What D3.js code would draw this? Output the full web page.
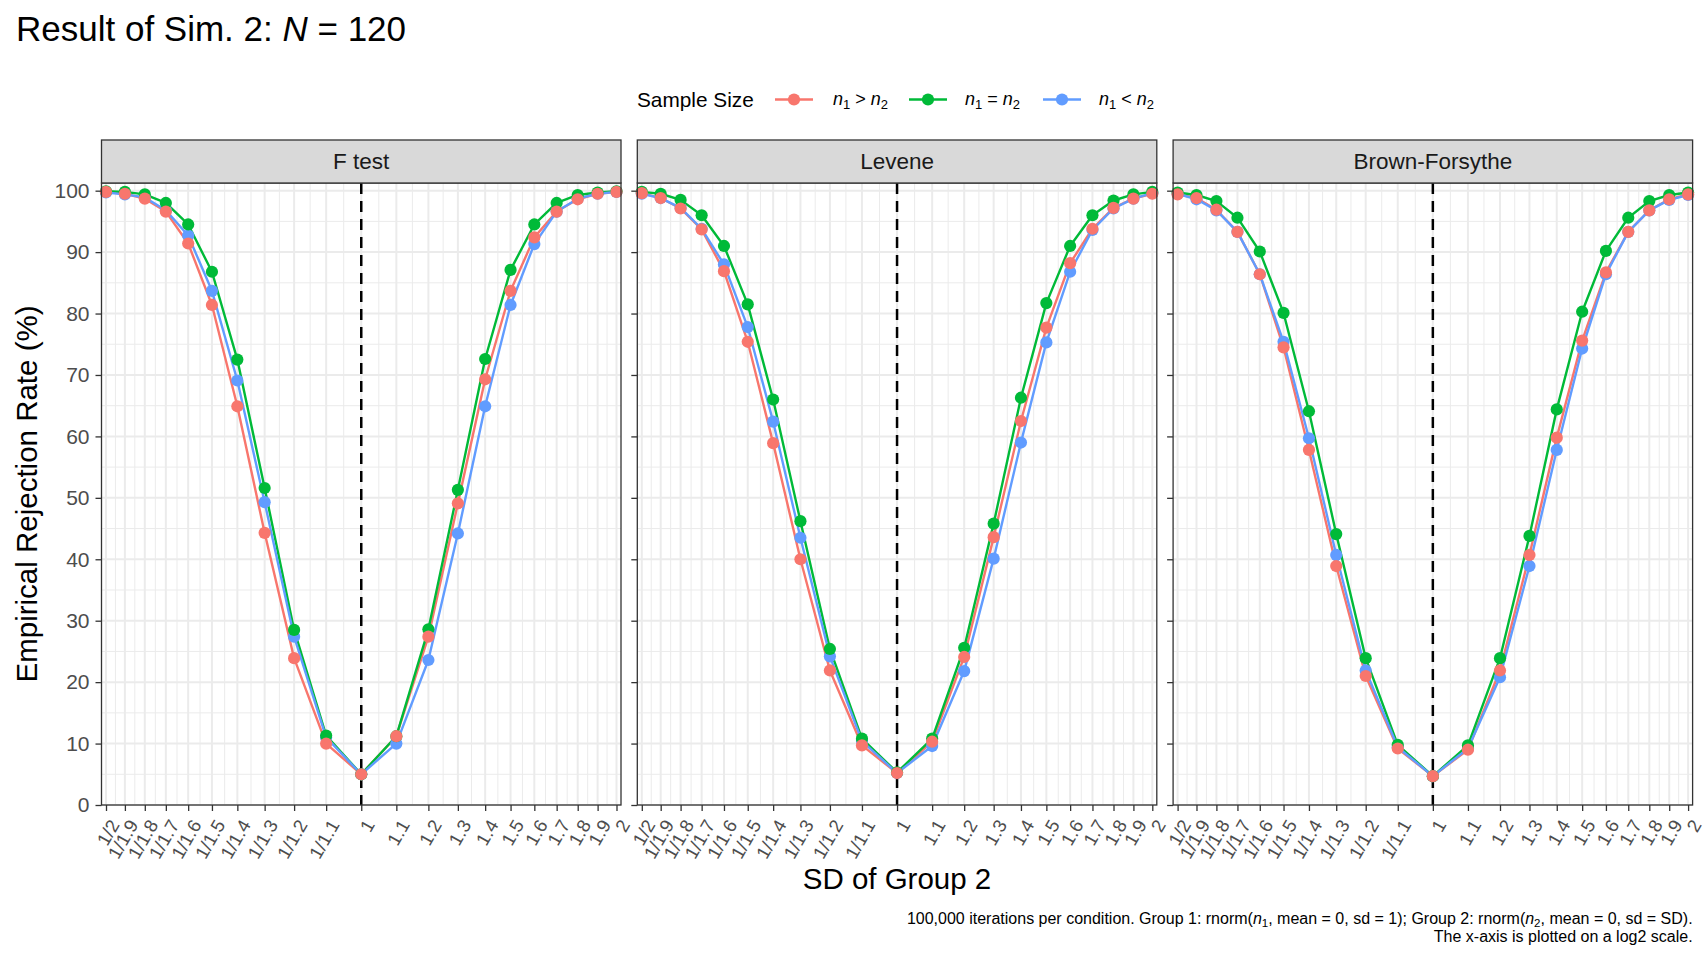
<!DOCTYPE html>
<html>
<head>
<meta charset="utf-8">
<script src="https://cdn.jsdelivr.net/npm/d3@7"></script>
<style>
  html, body { margin: 0; padding: 0; background: #fff; }
  svg { display: block; font-family: "Liberation Sans", Arial, sans-serif; }
</style>
</head>
<body>
<svg id="chart" width="1708" height="960"></svg>
<script>
// ---------- data ----------
const sdLabels = ["1/2","1/1.9","1/1.8","1/1.7","1/1.6","1/1.5","1/1.4","1/1.3","1/1.2","1/1.1","1",
                  "1.1","1.2","1.3","1.4","1.5","1.6","1.7","1.8","1.9","2"];
const sdValues = [1/2, 1/1.9, 1/1.8, 1/1.7, 1/1.6, 1/1.5, 1/1.4, 1/1.3, 1/1.2, 1/1.1, 1,
                  1.1, 1.2, 1.3, 1.4, 1.5, 1.6, 1.7, 1.8, 1.9, 2];
const tests = ["F test", "Levene", "Brown-Forsythe"];
const groups = ["gt", "eq", "lt"];
const groupColors = ["#F8766D", "#00BA38", "#619CFF"];
const yTicks = [0, 10, 20, 30, 40, 50, 60, 70, 80, 90, 100];

// F test
const fGt = [99.8, 99.5, 98.7, 96.6, 91.4, 81.4, 64.9, 44.3, 23.9, 10.0, 5.0, 11.2, 27.4, 49.1, 69.3, 83.7, 92.4, 96.6, 98.6, 99.5, 99.8];
const fEq = [99.9, 99.8, 99.4, 98.0, 94.5, 86.8, 72.5, 51.6, 28.5, 11.3, 5.0, 11.2, 28.6, 51.3, 72.6, 87.1, 94.5, 98.0, 99.3, 99.7, 99.9];
const fLt = [99.7, 99.4, 98.9, 96.8, 92.7, 83.7, 69.1, 49.3, 27.4, 11.0, 5.0, 10.0, 23.6, 44.2, 64.9, 81.4, 91.3, 96.6, 98.7, 99.5, 99.8];
// Levene
const lGt = [99.6, 98.8, 97.1, 93.7, 86.9, 75.4, 58.9, 40.0, 21.9, 9.7, 5.2, 10.3, 24.1, 43.6, 62.5, 77.7, 88.2, 93.8, 97.2, 98.7, 99.5];
const lEq = [99.8, 99.5, 98.5, 96.0, 91.0, 81.5, 66.0, 46.2, 25.4, 10.8, 5.3, 10.8, 25.6, 45.8, 66.3, 81.7, 91.0, 96.0, 98.4, 99.4, 99.8];
const lLt = [99.5, 98.8, 97.2, 93.8, 88.0, 77.8, 62.4, 43.5, 24.2, 10.4, 5.2, 9.6, 21.8, 40.1, 59.0, 75.3, 86.8, 93.6, 97.1, 98.7, 99.6];
// Brown-Forsythe
const bGt = [99.4, 98.8, 96.9, 93.3, 86.4, 74.5, 57.8, 38.9, 21.0, 9.2, 4.7, 9.0, 21.9, 40.7, 59.8, 75.6, 86.7, 93.3, 96.8, 98.6, 99.4];
const bEq = [99.7, 99.3, 98.3, 95.6, 90.1, 80.1, 64.1, 44.1, 23.9, 9.8, 4.7, 9.7, 23.9, 43.8, 64.4, 80.3, 90.2, 95.6, 98.3, 99.3, 99.7];
const bLt = [99.5, 98.6, 96.8, 93.3, 86.4, 75.4, 59.7, 40.7, 21.9, 9.4, 4.7, 9.2, 20.8, 38.9, 57.8, 74.3, 86.4, 93.3, 96.8, 98.5, 99.3];

const seriesByTest = [[fGt, fEq, fLt], [lGt, lEq, lLt], [bGt, bEq, bLt]];

// ---------- layout ----------
const svg = d3.select("#chart");
const panelLeft0 = 101.5, panelW = 519.5, panelGap = 16.3;
const stripTop = 140, panelTop = 183, panelBottom = 805;
const xPad = 4.5;
const ptR = 6.1, lineW = 2.4;

const y = d3.scaleLinear().domain([0, 101.25]).range([panelBottom, panelTop]);

// title
const title = svg.append("text").attr("x", 16).attr("y", 40.5)
  .attr("font-size", 35).attr("fill", "#000");
title.append("tspan").text("Result of Sim. 2: ");
title.append("tspan").attr("font-style", "italic").text("N");
title.append("tspan").text(" = 120");

// legend
const legY = 99.5;
svg.append("text").attr("x", 637).attr("y", legY).attr("dy", "0.35em")
  .attr("font-size", 20.8).attr("fill", "#000").text("Sample Size");
const legItems = [
  {key: 775, label: 833, op: ">"},
  {key: 909, label: 965, op: "="},
  {key: 1043, label: 1099, op: "<"}
];
legItems.forEach((it, i) => {
  svg.append("line").attr("x1", it.key).attr("x2", it.key + 38)
    .attr("y1", legY).attr("y2", legY)
    .attr("stroke", groupColors[i]).attr("stroke-width", lineW);
  svg.append("circle").attr("cx", it.key + 19).attr("cy", legY).attr("r", ptR)
    .attr("fill", groupColors[i]);
  const t = svg.append("text").attr("x", it.label).attr("y", legY + 5)
    .attr("font-size", 18).attr("fill", "#000");
  t.append("tspan").attr("font-style", "italic").text("n");
  t.append("tspan").attr("font-size", 13).attr("dy", 4).text("1");
  t.append("tspan").attr("dy", -4).text(" " + it.op + " ");
  t.append("tspan").attr("font-style", "italic").text("n");
  t.append("tspan").attr("font-size", 13).attr("dy", 4).text("2");
});

// panels
tests.forEach((testName, p) => {
  const left = panelLeft0 + p * (panelW + panelGap);
  const right = left + panelW;
  const x = d3.scaleLog().base(2).domain([0.5, 2]).range([left + xPad, right - xPad]);
  const g = svg.append("g");

  g.append("rect").attr("x", left).attr("y", panelTop).attr("width", panelW)
    .attr("height", panelBottom - panelTop).attr("fill", "#fff");

  // minor grid
  const minorX = d3.pairs(sdValues).map(([a, b]) => Math.sqrt(a * b));
  g.selectAll(".mgx").data(minorX).enter().append("line")
    .attr("x1", d => x(d)).attr("x2", d => x(d))
    .attr("y1", panelTop).attr("y2", panelBottom)
    .attr("stroke", "#EBEBEB").attr("stroke-width", 1);
  const minorY = d3.pairs(yTicks).map(([a, b]) => (a + b) / 2);
  g.selectAll(".mgy").data(minorY).enter().append("line")
    .attr("x1", left).attr("x2", right)
    .attr("y1", d => y(d)).attr("y2", d => y(d))
    .attr("stroke", "#EBEBEB").attr("stroke-width", 1);
  // major grid
  g.selectAll(".gx").data(sdValues).enter().append("line")
    .attr("x1", d => x(d)).attr("x2", d => x(d))
    .attr("y1", panelTop).attr("y2", panelBottom)
    .attr("stroke", "#EBEBEB").attr("stroke-width", 2);
  g.selectAll(".gy").data(yTicks).enter().append("line")
    .attr("x1", left).attr("x2", right)
    .attr("y1", d => y(d)).attr("y2", d => y(d))
    .attr("stroke", "#EBEBEB").attr("stroke-width", 2);

  // dashed reference line at SD = 1
  g.append("line").attr("x1", x(1)).attr("x2", x(1))
    .attr("y1", panelTop).attr("y2", panelBottom)
    .attr("stroke", "#000").attr("stroke-width", 2.5)
    .attr("stroke-dasharray", "11,7");

  // lines
  const series = seriesByTest[p];
  const line = d3.line().x((d, i) => x(sdValues[i])).y(d => y(d));
  series.forEach((vals, gi) => {
    g.append("path").datum(vals).attr("d", line)
      .attr("fill", "none").attr("stroke", groupColors[gi])
      .attr("stroke-width", lineW).attr("stroke-linejoin", "round");
  });
  // points
  [2, 1, 0].forEach(gi => {
    g.selectAll(".pt" + gi).data(series[gi]).enter().append("circle")
      .attr("cx", (d, i) => x(sdValues[i])).attr("cy", d => y(d))
      .attr("r", ptR).attr("fill", groupColors[gi]);
  });

  // panel border
  g.append("rect").attr("x", left).attr("y", panelTop).attr("width", panelW)
    .attr("height", panelBottom - panelTop).attr("fill", "none")
    .attr("stroke", "#333333").attr("stroke-width", 1.3);

  // strip
  g.append("rect").attr("x", left).attr("y", stripTop).attr("width", panelW)
    .attr("height", panelTop - stripTop).attr("fill", "#D9D9D9")
    .attr("stroke", "#333333").attr("stroke-width", 1.3);
  g.append("text").attr("x", (left + right) / 2).attr("y", (stripTop + panelTop) / 2)
    .attr("dy", "0.35em").attr("text-anchor", "middle")
    .attr("font-size", 22.5).attr("fill", "#1A1A1A").text(testName);

  // x axis
  const xAxis = d3.axisBottom(x).tickValues(sdValues)
    .tickFormat((d, i) => sdLabels[i]).tickSize(6).tickSizeOuter(0);
  const ax = svg.append("g").attr("transform", `translate(0,${panelBottom})`).call(xAxis);
  ax.select(".domain").remove();
  ax.selectAll(".tick line").attr("stroke", "#333333").attr("stroke-width", 1.3);
  ax.selectAll(".tick text")
    .attr("x", 0).attr("y", 0).attr("dy", "0.72em")
    .attr("transform", "translate(2,13) rotate(-60)")
    .attr("text-anchor", "end")
    .attr("font-size", 18.5).attr("fill", "#4D4D4D")
    .attr("font-family", "Liberation Sans, Arial, sans-serif");

  // y axis
  const yAxis = d3.axisLeft(y).tickValues(yTicks).tickSize(6).tickPadding(6).tickSizeOuter(0);
  const ay = svg.append("g").attr("transform", `translate(${left},0)`).call(yAxis);
  ay.select(".domain").remove();
  ay.selectAll(".tick line").attr("stroke", "#333333").attr("stroke-width", 1.3);
  if (p === 0) {
    ay.selectAll(".tick text").attr("font-size", 21).attr("fill", "#4D4D4D")
      .attr("font-family", "Liberation Sans, Arial, sans-serif");
  } else {
    ay.selectAll(".tick text").remove();
  }
});

// axis titles
svg.append("text").attr("transform", "translate(27,494) rotate(-90)")
  .attr("text-anchor", "middle").attr("dy", "0.35em")
  .attr("font-size", 29.5).attr("fill", "#000").text("Empirical Rejection Rate (%)");
svg.append("text").attr("x", 897).attr("y", 889)
  .attr("text-anchor", "middle")
  .attr("font-size", 29.5).attr("fill", "#000").text("SD of Group 2");

// caption
const capRight = panelLeft0 + 3 * panelW + 2 * panelGap;
const cap1 = svg.append("text").attr("x", capRight).attr("y", 924)
  .attr("text-anchor", "end").attr("font-size", 16).attr("fill", "#000");
cap1.append("tspan").text("100,000 iterations per condition. Group 1: rnorm(");
cap1.append("tspan").attr("font-style", "italic").text("n");
cap1.append("tspan").attr("font-size", 11.5).attr("dy", 3).text("1");
cap1.append("tspan").attr("dy", -3).text(", mean = 0, sd = 1); Group 2: rnorm(");
cap1.append("tspan").attr("font-style", "italic").text("n");
cap1.append("tspan").attr("font-size", 11.5).attr("dy", 3).text("2");
cap1.append("tspan").attr("dy", -3).text(", mean = 0, sd = SD).");
svg.append("text").attr("x", capRight).attr("y", 942)
  .attr("text-anchor", "end").attr("font-size", 16).attr("fill", "#000")
  .text("The x-axis is plotted on a log2 scale.");
</script>
</body>
</html>
